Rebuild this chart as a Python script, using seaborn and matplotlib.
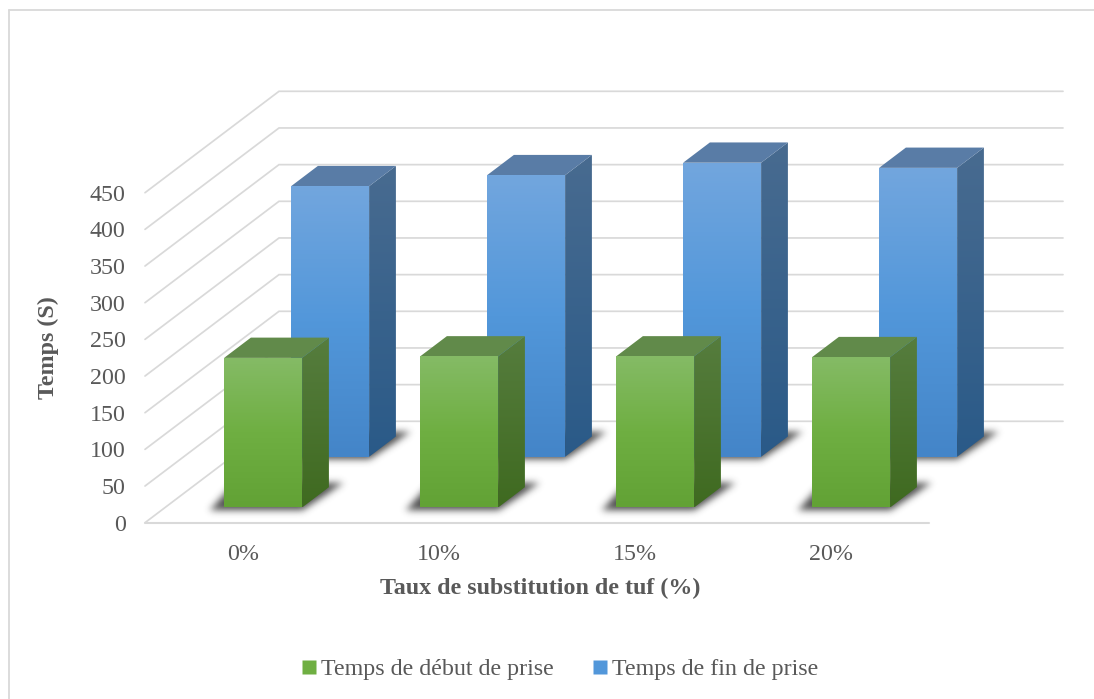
import numpy as np
import pandas as pd
import matplotlib
matplotlib.use("Agg")
import matplotlib.pyplot as plt
from matplotlib.patches import Polygon
from matplotlib.path import Path
from matplotlib.lines import Line2D
from matplotlib.colors import LinearSegmentedColormap
import seaborn as sns

categories = ["0%", "10%", "15%", "20%"]
debut_prise = [204, 206, 206, 205]
fin_prise = [369, 384, 401, 394]
series_names = ["Temps de début de prise", "Temps de fin de prise"]
y_ticks = [0, 50, 100, 150, 200, 250, 300, 350, 400, 450]
x_label = "Taux de substitution de tuf (%)"
y_label = "Temps (S)"

W, H = 1094, 699
L, R, T0, T450 = 145.0, 929.0, 522.7, 192.7
GREY = "#595959"
GRID = "#D9D9D9"
FONT = "Liberation Serif"
FS = 17.3

sns.set_theme(style="white")
plt.rcParams["font.family"] = FONT

fig = plt.figure(figsize=(W / 100, H / 100), dpi=100)
ax = fig.add_axes([L / W, 1 - T0 / H, (R - L) / W, (T0 - T450) / H])

df = pd.DataFrame({
    "cat": categories * 2,
    "val": debut_prise + fin_prise,
    "serie": [series_names[0]] * 4 + [series_names[1]] * 4,
})
sns.barplot(data=df, x="cat", y="val", hue="serie", dodge=False, width=0.398,
            palette=["#70AD47", "#5B9BD5"], legend=False, ax=ax, saturation=1)
ax.set_xlim(-0.5, 3.5)
ax.set_ylim(0, 450)
sns.despine(ax=ax, left=True, bottom=True)

px_x = 4 / (R - L)
px_y = 450 / (T0 - T450)
DX = 134 * px_x      # full-depth shift on x (data units)
DY = 101.4 * px_y    # full-depth shift on y (data units)
BAR_DEPTH = 0.2
Z0 = {0: 0.15, 1: 0.65}

# ---- walls
for v in y_ticks:
    ax.plot([-0.5, -0.5 + DX, 3.5 + DX], [v, v + DY, v + DY], color=GRID,
            lw=1.25, clip_on=False, zorder=1, solid_joinstyle="miter")
ax.plot([-0.5, 3.5], [0, 0], color=GRID, lw=1.5, clip_on=False, zorder=1)

cm = {
    0: dict(front=["#85BB66", "#6FAF42", "#62A235"], side=["#567D3E", "#3F6A20"], top="#618A4A"),
    1: dict(front=["#72A6DE", "#5297DA", "#4485C8"], side=["#486B90", "#2A5A88"], top="#597CA6"),
}


def gradient(poly, colors, zorder):
    xy = poly.get_xy()
    cmap = LinearSegmentedColormap.from_list("g", colors)
    img = np.linspace(0, 1, 128).reshape(-1, 1)
    im = ax.imshow(img, cmap=cmap, aspect="auto", origin="upper",
                   extent=[xy[:, 0].min(), xy[:, 0].max(), xy[:, 1].min(), xy[:, 1].max()],
                   zorder=zorder)
    ax.add_patch(poly)
    poly.set_facecolor("none")
    poly.set_edgecolor("none")
    poly.set_zorder(zorder)
    poly.set_clip_on(False)
    im.set_clip_path(poly)
    im.set_clip_box(fig.bbox)


def soft_shadow(x0, y0, width_px, zorder, sigma=3.6, strength=0.85):
    """Blurred floor shadow anchored on a bar's front-bottom-left corner."""
    pad = 16
    outline = [(-15, -3.5), (width_px, -3.5), (width_px + 42, 25), (10, 25)]
    xs = np.arange(-15 - pad, width_px + 42 + pad)
    ys = np.arange(-3.5 - pad, 25 + pad)
    gx, gy = np.meshgrid(xs, ys)
    mask = Path(outline).contains_points(np.c_[gx.ravel(), gy.ravel()]).reshape(gx.shape).astype(float)
    r = np.arange(-11, 12)
    kernel = np.exp(-r ** 2 / (2 * sigma ** 2))
    kernel /= kernel.sum()
    mask = np.apply_along_axis(lambda a: np.convolve(a, kernel, mode="same"), 0, mask)
    mask = np.apply_along_axis(lambda a: np.convolve(a, kernel, mode="same"), 1, mask)
    rgba = np.zeros(mask.shape + (4,))
    rgba[..., :3] = 0.19
    rgba[..., 3] = mask * strength
    im = ax.imshow(rgba, origin="lower", aspect="auto", zorder=zorder,
                   extent=[x0 + xs[0] * px_x, x0 + xs[-1] * px_x,
                           y0 + ys[0] * px_y, y0 + ys[-1] * px_y])
    im.set_clip_box(fig.bbox)


patches = list(ax.patches)
n = len(categories)
groups = {0: patches[:n], 1: patches[n:]}

for s in (1, 0):
    base_z = 10 if s == 1 else 30
    for b in groups[s]:
        z0 = Z0[s]
        x0 = b.get_x() + z0 * DX
        x1 = x0 + b.get_width()
        y0 = z0 * DY
        y1 = y0 + b.get_height()
        b.set_visible(False)
        ddx, ddy = BAR_DEPTH * DX, BAR_DEPTH * DY

        soft_shadow(x0, y0, b.get_width() / px_x, base_z)

        c = cm[s]
        # side face
        gradient(Polygon([(x1, y0), (x1 + ddx, y0 + ddy), (x1 + ddx, y1 + ddy), (x1, y1)], closed=True),
                 c["side"], base_z + 1)
        # top face
        ax.add_patch(Polygon([(x0, y1), (x1, y1), (x1 + ddx, y1 + ddy), (x0 + ddx, y1 + ddy)],
                             closed=True, fc=c["top"], ec="none", clip_on=False, zorder=base_z + 1))
        # front face
        gradient(Polygon([(x0, y0), (x1, y0), (x1, y1), (x0, y1)], closed=True),
                 c["front"], base_z + 2)

ax.set_xlim(-0.5, 3.5)
ax.set_ylim(0, 450)

ax.set_yticks(y_ticks)
ax.set_yticklabels([str(v) for v in y_ticks], fontsize=FS, color=GREY, family=FONT)
ax.set_xticks(range(n))
ax.set_xticklabels(categories, fontsize=FS, color=GREY, family=FONT)
ax.tick_params(axis="both", length=0)
ax.tick_params(axis="y", pad=14)
ax.tick_params(axis="x", pad=15)
ax.set_xlabel("")
ax.set_ylabel("")
fig.text(540 / W, 1 - 588.5 / H, x_label, ha="center", va="center", fontsize=FS,
         fontweight="bold", color=GREY, family=FONT)
fig.text(48 / W, 1 - 348 / H, y_label, ha="center", va="center", rotation=90, fontsize=FS,
         fontweight="bold", color=GREY, family=FONT)

# legend
handles = [Line2D([], [], ls="none", marker="s", ms=9.4, mec="none", mfc=cm[i]["front"][1]) for i in (0, 1)]
fig.legend(handles, series_names, loc="center", bbox_to_anchor=(560 / W, 1 - 669 / H), ncol=2,
           frameon=False, prop={"family": FONT, "size": FS}, labelcolor=GREY,
           handlelength=0.6, handletextpad=0.18, columnspacing=1.65)

# chart border
fig.add_artist(Line2D([8.5 / W, 8.5 / W], [0, 1 - 9.5 / H], color=GRID, lw=1.3))
fig.add_artist(Line2D([8.5 / W, 1], [1 - 9.5 / H, 1 - 9.5 / H], color=GRID, lw=1.3))

fig.savefig("out.png", dpi=100)
